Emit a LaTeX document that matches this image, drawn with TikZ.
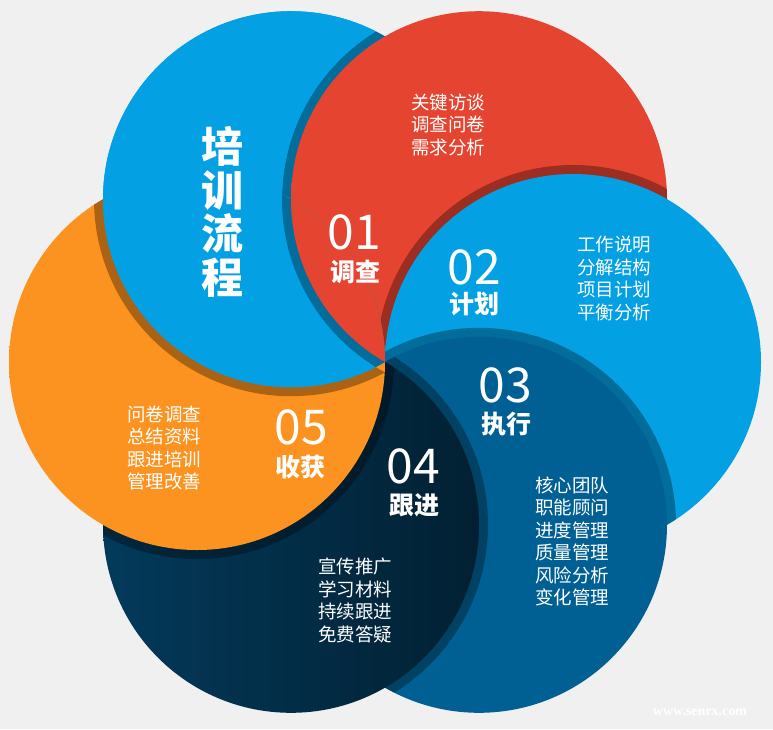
\documentclass[tikz,border=0pt]{standalone}
\usepackage{fontspec}
\setmainfont{Noto Sans CJK SC}
\newfontfamily\wmfont{Liberation Serif}
\definecolor{bgc}{HTML}{F0F0F0}
\definecolor{skyc}{HTML}{04A0E4}
\definecolor{redc}{HTML}{E54530}
\definecolor{deepc}{HTML}{006094}
\definecolor{navyc}{HTML}{033A5B}
\definecolor{orangec}{HTML}{FC9320}
\tikzset{
  shd/.style={fill=black,fill opacity=0.32},
  num/.style={text=white,inner sep=0,font=\fontsize{48}{48}\selectfont},
  ttl/.style={text=white,inner sep=0,font=\bfseries\fontsize{25}{25}\selectfont},
  lst/.style={text=white,inner sep=0,anchor=west,align=left,font=\fontsize{18.5}{22.5}\selectfont}
}
\begin{document}
\begin{tikzpicture}[x=1pt,y=-1pt]
\pgfmathsetmacro{\rad}{188}
\pgfmathsetmacro{\sh}{197}
\fill[bgc](0,0)rectangle(773,729);
\coordinate(A)at(291,199.2);
\coordinate(B)at(479,199.2);
\coordinate(C)at(573,362);
\coordinate(D)at(479,524.8);
\coordinate(E)at(291,524.8);
\coordinate(F)at(197,362);
\fill[skyc](A)circle(\rad pt);
\foreach \p/\q/\c/\d in {A/B/redc/redc,B/C/skyc/skyc,C/D/deepc/deepc,D/E/navyc/navyc!55!black,E/F/orangec/orangec}{
\begin{scope}\clip(\p)circle(\rad pt);\fill[shd](\q)circle(\sh pt);\end{scope}
\shade[left color=\c,middle color=\c,right color=\d](\q)circle(\rad pt);}
\begin{scope}[even odd rule]
\clip(0,0)rectangle(773,729)(B)circle(\sh pt);
\begin{scope}\clip(F)circle(\rad pt);\fill[shd](A)circle(\sh pt);\end{scope}
\fill[skyc](A)circle(\rad pt);
\end{scope}
\begin{scope}
\clip(F)circle(\rad pt);
\begin{scope}\clip(A)circle(\rad pt);\fill[skyc](A)circle(\rad pt);\fill[shd](B)circle(\sh pt);\end{scope}
\fill[redc](B)circle(\rad pt);
\end{scope}
\node[text=white,inner sep=0,align=center,font=\bfseries\fontsize{42}{43.5}\selectfont](title)at(222,212){培\\训\\流\\程};
\node[num](n1)at(354,232){01};
\node[ttl](t1)at(355,272){调查};
\node[num](n2)at(474,267){02};
\node[ttl](t2)at(474,304){计划};
\node[num](n3)at(505,385){03};
\node[ttl](t3)at(506,424){执行};
\node[num](n4)at(413,466){04};
\node[ttl](t4)at(414,505){跟进};
\node[num](n5)at(301,427){05};
\node[ttl](t5)at(300,467){收获};
\node[lst](l1)at(411,124.5){关键访谈\\调查问卷\\需求分析};
\node[lst](l2)at(577,278.5){工作说明\\分解结构\\项目计划\\平衡分析};
\node[lst](l3)at(535,541.5){核心团队\\职能顾问\\进度管理\\质量管理\\风险分析\\变化管理};
\node[lst](l4)at(318,600.5){宣传推广\\学习材料\\持续跟进\\免费答疑};
\node[lst](l5)at(127,448){问卷调查\\总结资料\\跟进培训\\管理改善};
\node[text=white,inner sep=0,font=\wmfont\bfseries\fontsize{14}{14}\selectfont](wm)at(700,712){www.senrx.com};
\end{tikzpicture}
\end{document}
